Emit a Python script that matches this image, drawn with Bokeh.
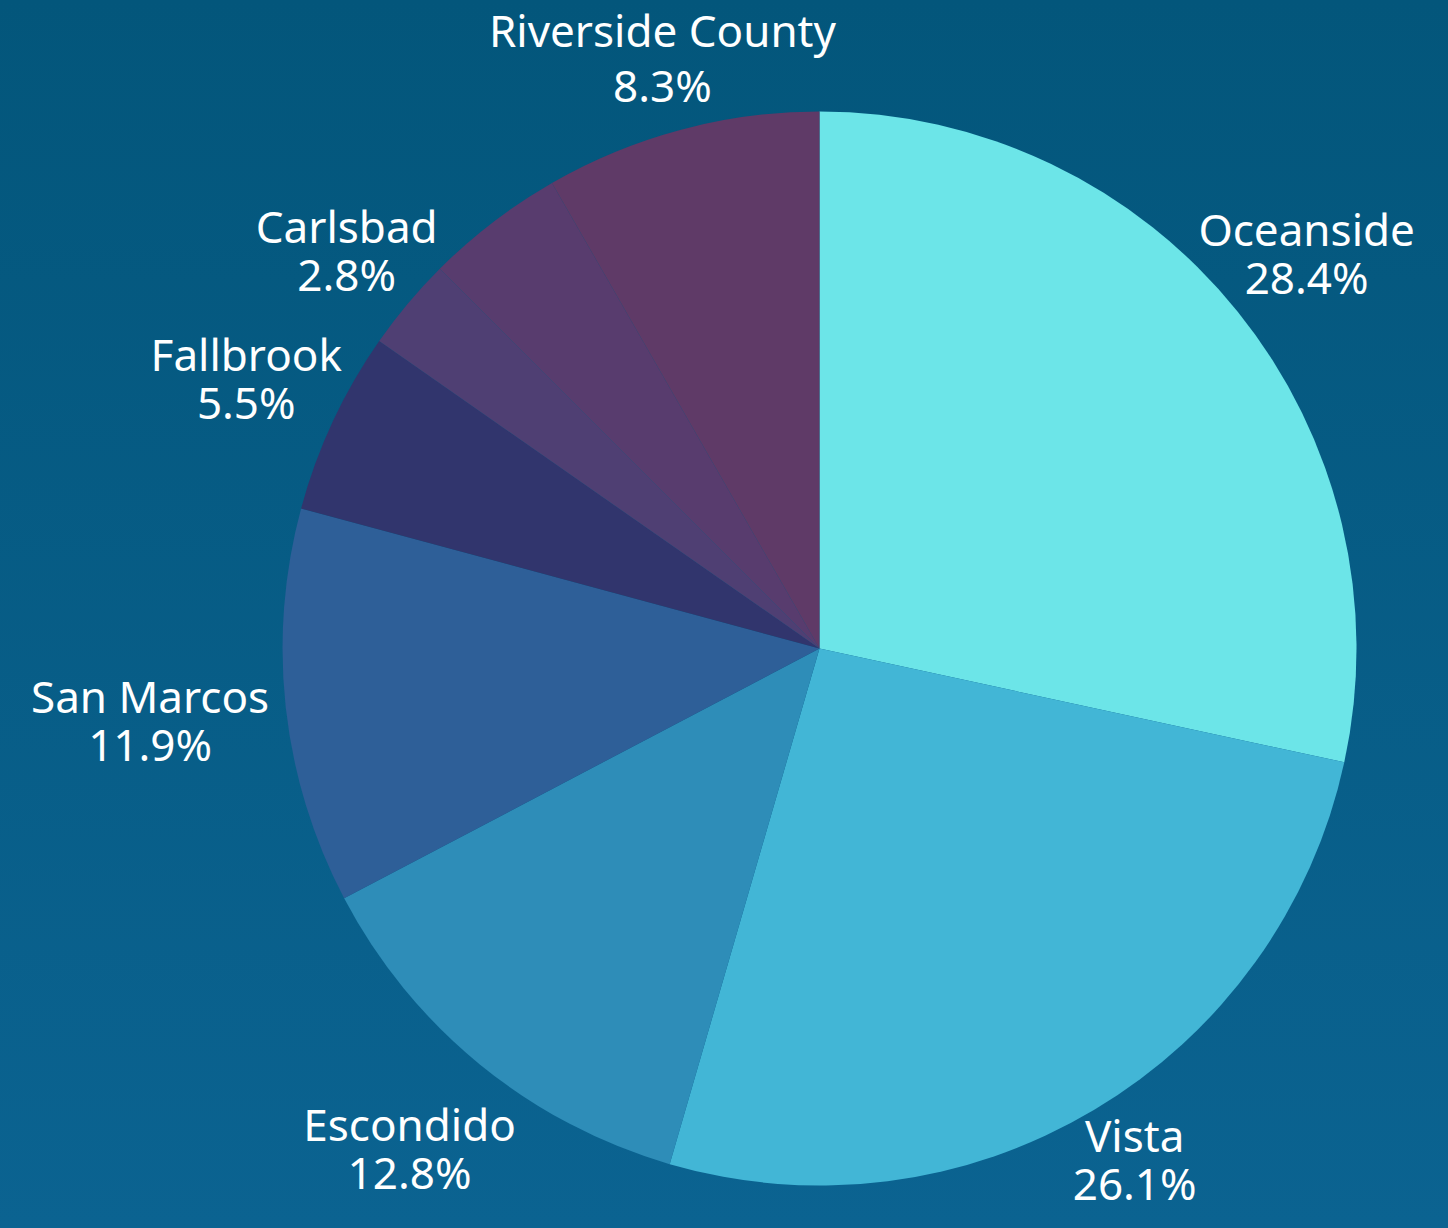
import math
from bokeh.plotting import figure
from bokeh.models import Range1d, ColumnDataSource, GlobalInlineStyleSheet
from bokeh.core.properties import value
from bokeh.embed import file_html
from bokeh.resources import INLINE

# ---- data ----
categories = ["Oceanside", "Vista", "Escondido", "San Marcos", "Fallbrook",
              "Carlsbad", "", "Riverside County"]
shares = [28.4, 26.1, 12.8, 11.9, 5.5, 2.8, 4.2, 8.3]
colors = ["#6ce5e8", "#42b6d6", "#2e8db8", "#2e5f98", "#31356d",
          "#4f3f73", "#583c6e", "#5f3a67"]

# ---- layout (pixel units, 1 data unit = 1 px) ----
FIG_W, FIG_H = 1432, 1212
CX, CY = 819, 648          # pie centre from the figure's top-left corner
R = 537                    # pie radius
FONT = "Noto Sans"
FONT_SIZE = "44px"
CAP = 31                   # cap height of a label line
LINE_GAP = 17              # gap between name baseline and percent cap top
DESC = 7                   # extra gap when the name has descenders
LABEL_GAP = 20             # distance between pie edge and nearest label line
BASE_FIX = 18              # renderer places the alphabetic baseline this much lower
BOTTOM_PAD = 12            # room kept below the lowest baseline

Y_MIN = -(FIG_H - CY)


def est_width(s):
    w = 0.0
    for ch in s:
        if ch in "il.I1":
            w += 11
        elif ch in "rtf":
            w += 15
        elif ch == " ":
            w += 11
        elif ch == "%":
            w += 33
        elif ch == "M":
            w += 36
        elif ch.isupper():
            w += 27
        else:
            w += 23
    return w


def box_dist(x1, x2, y1, y2):
    nx = min(max(0.0, x1), x2)
    ny = min(max(0.0, y1), y2)
    return math.hypot(nx, ny)


total = sum(shares)
starts, ends = [], []
acc = 0.0
for v in shares:
    starts.append(math.pi / 2 - 2 * math.pi * acc / total)
    acc += v
    ends.append(math.pi / 2 - 2 * math.pi * acc / total)

wedges = ColumnDataSource(dict(cat=categories, start=starts, end=ends, color=colors))

lx, ly_name, ly_pct, names, pcts = [], [], [], [], []
acc = 0.0
for cat, v in zip(categories, shares):
    mid = acc + v / 2
    acc += v
    if not cat:
        continue
    pct = f"{v:.1f}%"
    th = math.pi / 2 - 2 * math.pi * mid / total
    ux, uy = math.cos(th), math.sin(th)
    wn, wp = est_width(cat), est_width(pct)
    gap = LINE_GAP + (DESC if any(c in "gjpqy" for c in cat) else 0)
    H = 2 * CAP + gap

    def nearest(t):
        cx, cy = t * ux, t * uy
        dn = box_dist(cx - wn / 2, cx + wn / 2, cy + H / 2 - CAP, cy + H / 2)
        dp = box_dist(cx - wp / 2, cx + wp / 2, cy - H / 2, cy - H / 2 + CAP)
        return min(dn, dp)

    lo, hi = 0.0, R + 600.0
    for _ in range(60):
        m = (lo + hi) / 2
        if nearest(m) < R + LABEL_GAP:
            lo = m
        else:
            hi = m
    cx, cy = hi * ux, hi * uy
    # keep the label inside the frame
    cy = max(cy, Y_MIN + H / 2 + BOTTOM_PAD)
    lx.append(cx)
    ly_name.append(cy + H / 2 - CAP + BASE_FIX)   # baseline of name line
    ly_pct.append(cy - H / 2 + BASE_FIX)          # baseline of percent line
    names.append(cat)
    pcts.append(pct)

labels = ColumnDataSource(dict(x=lx, yn=ly_name, yp=ly_pct, name=names, pct=pcts))

p = figure(width=FIG_W, height=FIG_H, output_backend="svg", toolbar_location=None,
           x_range=Range1d(-CX, FIG_W - CX), y_range=Range1d(Y_MIN, CY),
           min_border=0, outline_line_color=None,
           background_fill_color=None, border_fill_color=None)
p.axis.visible = False
p.grid.visible = False

p.wedge(x=0, y=0, radius=R, start_angle="start", end_angle="end", direction="clock",
        fill_color="color", line_color=None, source=wedges)

for col, txt in (("yn", "name"), ("yp", "pct")):
    p.text(x="x", y=col, text=txt, source=labels, text_color="white",
           text_font=value(FONT), text_font_size=FONT_SIZE,
           text_align="center", text_baseline="alphabetic")

p.stylesheets = [GlobalInlineStyleSheet(
    css="html, body { background: linear-gradient(180deg, #03567b 0%, #0b6391 100%) fixed; "
        "min-height: 100%; }")]

open("out.html", "w").write(file_html(p, INLINE))
